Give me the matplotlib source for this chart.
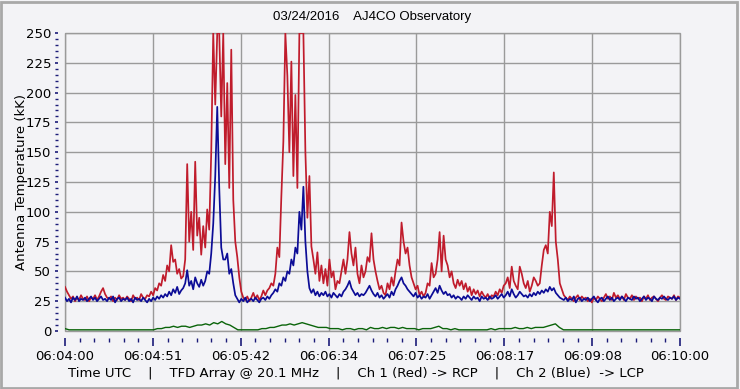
import numpy as np
import matplotlib
matplotlib.use('Agg')
import matplotlib.pyplot as plt
from matplotlib.ticker import MultipleLocator
from matplotlib.patches import Rectangle

# Antenna temperature (kK), 06:04:00 -> 06:10:00 UTC
rcp = [37, 33, 30, 27, 29, 25, 28, 26, 30, 27,
       26, 29, 25, 28, 27, 30, 26, 29, 33, 36,
       31, 28, 27, 29, 25, 28, 26, 30, 27, 28,
       26, 29, 27, 25, 30, 27, 28, 26, 31, 28,
       27, 30, 29, 33, 30, 36, 34, 40, 38, 47,
       42, 55, 50, 72, 58, 60, 48, 52, 44, 46,
       60, 140, 75, 100, 68, 142, 80, 95, 64, 88,
       70, 102, 85, 150, 250, 190, 250, 250, 180, 250,
       140, 208, 120, 236, 110, 75, 62, 45, 33, 28,
       26, 29, 25, 28, 32, 27, 30, 26, 29, 34,
       30, 34, 36, 40, 38, 48, 70, 62, 113, 159,
       250, 214, 150, 226, 130, 198, 120, 250, 250, 250,
       150, 95, 130, 71, 60, 48, 66, 42, 55, 40,
       52, 38, 60, 45, 50, 35, 42, 40, 50, 60,
       48, 60, 83, 65, 55, 70, 48, 40, 55, 45,
       50, 62, 58, 82, 60, 50, 42, 35, 38, 32,
       30, 40, 35, 45, 38, 50, 60, 55, 91, 75,
       65, 70, 55, 45, 40, 35, 38, 30, 33, 29,
       32, 40, 38, 57, 45, 48, 60, 83, 50, 80,
       60, 55, 45, 50, 40, 36, 43, 38, 42, 35,
       40, 33, 37, 30, 35, 31, 34, 29, 33, 30,
       28, 31, 27, 30, 29, 33, 30, 35, 32, 38,
       40, 45, 36, 54, 42, 38, 35, 54, 48, 40,
       36, 42, 33, 38, 45, 42, 38, 40, 55, 68,
       72, 65, 100, 88, 133, 75, 60, 40, 35, 30,
       28, 26, 29, 27, 25, 28, 30, 26, 29, 27,
       28, 25, 27, 24, 28, 26, 29, 27, 25, 28,
       31, 27, 29, 26, 32, 28, 30, 27, 29, 26,
       31, 28, 27, 30, 26, 29, 27, 28, 25, 29,
       27, 30, 26, 28, 29, 27, 25, 28, 30, 27,
       26, 29, 28, 27, 30, 26, 29, 28]

lcp = [28, 25, 27, 24, 28, 26, 29, 25, 27, 26,
       28, 25, 27, 29, 26, 28, 25, 27, 29, 26,
       27, 25, 28, 26, 29, 24, 27, 28, 25, 27,
       26, 28, 25, 27, 24, 28, 26, 27, 25, 28,
       26, 24, 27, 25, 28, 26, 29, 27, 30, 28,
       31, 29, 33, 30, 35, 32, 37, 31, 34, 36,
       40, 51, 38, 42, 35, 45, 40, 37, 43, 38,
       42, 50, 48, 65, 90, 130, 188, 120, 70, 60,
       60, 65, 48, 52, 40, 30, 27, 24, 27, 25,
       28, 24, 26, 27, 25, 28, 26, 24, 27, 28,
       26, 29, 27, 30, 32, 35, 33, 40, 38, 45,
       42, 50, 48, 60, 55, 70, 65, 100, 85, 121,
       75, 50, 36, 32, 35, 30, 33, 29, 32, 30,
       33, 29, 31, 28, 32, 30, 28, 31, 29, 33,
       35, 38, 42, 36, 33, 30, 32, 29, 31, 30,
       32, 35, 38, 34, 31, 29, 32, 28, 30, 27,
       29, 31, 28, 33, 30, 35, 38, 42, 45, 40,
       38, 35, 33, 31, 29, 32, 28, 30, 27, 29,
       28, 31, 27, 30, 33, 36, 32, 38, 34, 31,
       33, 30, 31, 28, 30, 27, 29, 28, 26, 29,
       27, 30, 28, 26, 29, 27, 28, 25, 29, 27,
       28, 26, 29, 27, 28, 30, 27, 29, 31, 28,
       30, 33, 29, 35, 31, 28, 30, 33, 31, 29,
       30, 28, 31, 29, 32, 30, 33, 31, 34, 32,
       35, 33, 37, 34, 36, 32, 30, 28, 27, 26,
       28, 25, 27, 26, 29, 24, 27, 28, 25, 27,
       26, 28, 25, 27, 29, 26, 24, 27, 28, 25,
       27, 29, 26, 28, 25, 27, 28, 26, 29, 27,
       25, 28, 27, 26, 29, 27, 28, 25, 27, 29,
       26, 28, 27, 25, 29, 27, 26, 28, 27, 29,
       27, 26, 28, 27, 29, 26, 28, 27]

diff = [2, 1, 1, 1, 1, 1, 1, 1, 1, 1,
        1, 1, 1, 1, 1, 1, 1, 1, 1, 1,
        1, 1, 1, 2, 2, 3, 3, 4, 3, 4,
        4, 3, 4, 5, 5, 6, 5, 7, 6, 8,
        6, 5, 3, 1, 1, 1, 1, 1, 1, 2,
        2, 3, 3, 4, 5, 5, 6, 5, 6, 7,
        6, 5, 4, 3, 3, 3, 2, 2, 2, 1,
        2, 2, 1, 2, 2, 1, 3, 2, 2, 3,
        2, 3, 3, 2, 3, 2, 2, 2, 1, 2,
        2, 2, 3, 4, 2, 2, 1, 2, 1, 1,
        1, 1, 1, 1, 1, 1, 2, 1, 2, 2,
        2, 2, 3, 2, 2, 3, 2, 3, 3, 3,
        4, 5, 6, 3, 1, 1, 1, 1, 1, 1,
        1, 1, 1, 1, 1, 1, 1, 1, 1, 1,
        1, 1, 1, 1, 1, 1, 1, 1, 1, 1,
        1, 1, 1, 1]

xlabels = ['06:04:00', '06:04:51', '06:05:42', '06:06:34',
           '06:07:25', '06:08:17', '06:09:08', '06:10:00']
span = 360.0  # seconds

t1 = np.linspace(0, span, len(rcp))
t2 = np.linspace(0, span, len(lcp))
t3 = np.linspace(0, span, len(diff))

bg = '#f3f3f6'
tickcol = '#1c1c78'

fig = plt.figure(figsize=(7.4, 3.89), dpi=100, facecolor=bg)
ax = fig.add_axes([65/740, 58/389, 615/740, 298/389])
ax.set_facecolor(bg)

ax.plot(t1, rcp, color='#c01c2c', lw=1.25, zorder=3)
ax.plot(t2, lcp, color='#0c0c96', lw=1.25, zorder=4)
ax.plot(t3, diff, color='#0a640a', lw=1.0, zorder=5)

ax.set_xlim(0, span)
ax.set_ylim(0, 250)

major = np.linspace(0, span, len(xlabels))
ax.set_xticks(major)
ax.set_xticklabels(xlabels)
ax.xaxis.set_minor_locator(MultipleLocator(span / 7 / 6))
ax.yaxis.set_major_locator(MultipleLocator(25))
ax.yaxis.set_minor_locator(MultipleLocator(5))

ax.grid(True, which='major', color='#9a9a9a', lw=1, zorder=1)
ax.set_axisbelow(True)

for s in ['top', 'right']:
    ax.spines[s].set_visible(False)
ax.spines['left'].set_position(('outward', 5))
ax.spines['bottom'].set_position(('outward', 5))
ax.spines['left'].set_visible(False)
ax.spines['bottom'].set_visible(False)

ax.tick_params(axis='x', which='major', direction='out', length=6, width=1.2,
               color=tickcol, labelsize=9.5, pad=3)
ax.tick_params(axis='x', which='minor', direction='out', length=3, width=1,
               color=tickcol)
ax.tick_params(axis='y', which='major', direction='out', length=2, width=1.2,
               color=tickcol, labelsize=9.5, pad=3)
ax.tick_params(axis='y', which='minor', direction='out', length=2, width=1,
               color=tickcol)

# edges of plot box
ax.add_patch(Rectangle((0, 0), 1, 1, transform=ax.transAxes, fill=False,
                       edgecolor='#9a9a9a', lw=1, zorder=2, clip_on=False))

ax.set_ylabel('Antenna Temperature (kK)', fontsize=9.5)
ax.yaxis.set_label_coords(-37/615, 0.5)
fig.text(372/740, 1 - 17/389, '03/24/2016    AJ4CO Observatory',
         ha='center', va='center', fontsize=9.5, family='Liberation Sans')
fig.text(356/740, 1 - 373/389,
         'Time UTC    |    TFD Array @ 20.1 MHz    |    Ch 1 (Red) -> RCP    |    Ch 2 (Blue)  -> LCP',
         ha='center', va='center', fontsize=9.5)

# outer frame of the figure
fig.add_artist(Rectangle((0.002, 0.003), 0.994, 0.992, transform=fig.transFigure,
                         fill=False, edgecolor='#a8a8a8', lw=2))

fig.savefig('out.png', dpi=100, facecolor=bg)
